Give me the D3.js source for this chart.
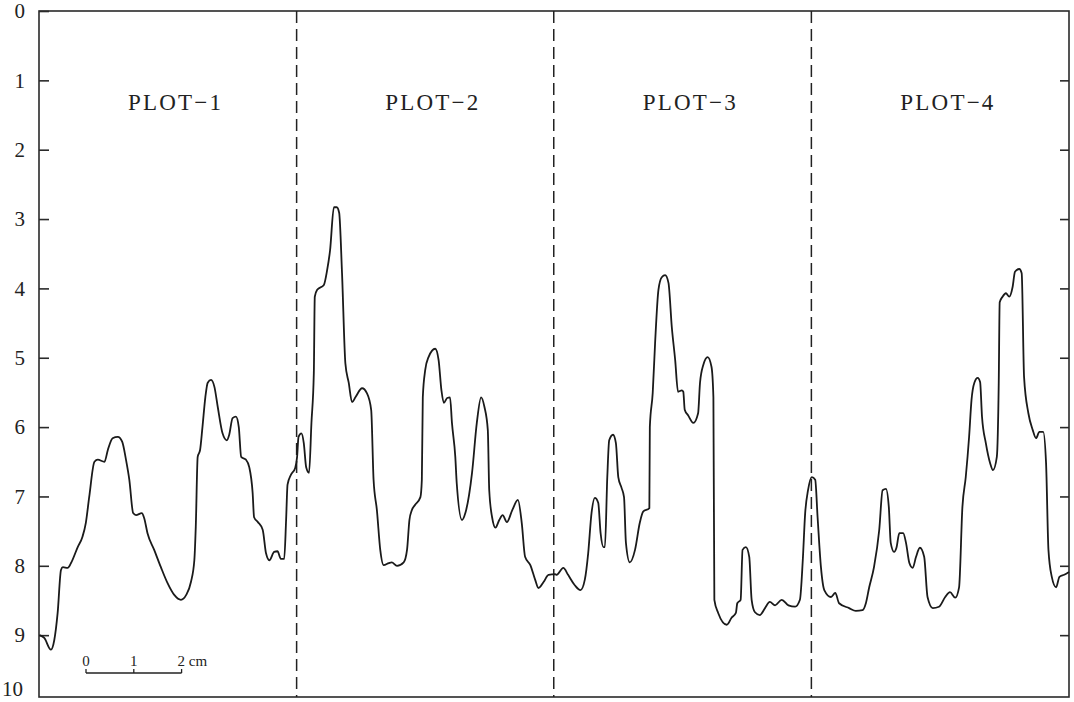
<!DOCTYPE html>
<html>
<head>
<meta charset="utf-8">
<style>
  body { margin: 0; background: #fff; }
  svg { display: block; }
  .frame { fill: none; stroke: #2a2a2a; stroke-width: 1.6px; }
  .axis path { display: none; }
  .axis line { stroke: #2a2a2a; stroke-width: 1.6px; }
  .axis text, .tick10 { font-family: "Liberation Serif", "DejaVu Serif", serif; font-size: 21px; fill: #222; }
  .plotlabel { font-family: "Liberation Serif", "DejaVu Serif", serif; font-size: 23px; fill: #222; letter-spacing: 2.2px; }
  .scale text { font-family: "Liberation Serif", "DejaVu Serif", serif; font-size: 15px; fill: #222; }
</style>
</head>
<body>
<svg width="1074" height="702"></svg>
<script src="https://d3js.org/d3.v7.min.js"></script>
<script>
// plot names and boundaries (distance along profile, cm)
const plotNames = ["PLOT\u22121", "PLOT\u22122", "PLOT\u22123", "PLOT\u22124"];
const plotBounds = [0, 5.39, 10.77, 16.16, 21.55];
const depthTicks = [0, 1, 2, 3, 4, 5, 6, 7, 8, 9];

// profile: distance (cm) and depth reading
const distanceCm = [
  0.01, 0.11, 0.25, 0.32, 0.39, 0.46, 0.50, 0.60, 0.67, 0.81, 0.91, 0.98, 1.05, 1.16, 1.23, 1.37, 1.44, 1.54, 1.65, 1.74,
  1.82, 1.89, 1.97, 2.03, 2.15, 2.20, 2.27, 2.41, 2.55, 2.69, 2.83, 2.97, 3.08, 3.18, 3.25, 3.28, 3.32, 3.37, 3.42, 3.48,
  3.53, 3.60, 3.67, 3.74, 3.84, 3.93, 3.98, 4.05, 4.12, 4.18, 4.23, 4.33, 4.40, 4.47, 4.50, 4.58, 4.68, 4.75, 4.82, 4.92,
  4.99, 5.06, 5.13, 5.17, 5.20, 5.27, 5.36, 5.40, 5.43, 5.49, 5.54, 5.59, 5.65, 5.70, 5.75, 5.77, 5.82, 5.96, 6.03, 6.09,
  6.17, 6.23, 6.28, 6.34, 6.41, 6.48, 6.55, 6.62, 6.76, 6.86, 6.95, 7.00, 7.07, 7.14, 7.21, 7.32, 7.38, 7.49, 7.63, 7.70,
  7.75, 7.80, 7.87, 7.98, 8.01, 8.03, 8.08, 8.15, 8.29, 8.36, 8.42, 8.47, 8.54, 8.60, 8.64, 8.71, 8.74, 8.85, 8.92, 9.06,
  9.16, 9.25, 9.32, 9.39, 9.42, 9.48, 9.55, 9.63, 9.70, 9.79, 9.90, 10.02, 10.10, 10.17, 10.28, 10.38, 10.45, 10.56, 10.66, 10.80,
  10.83, 10.97, 11.07, 11.21, 11.33, 11.42, 11.49, 11.56, 11.63, 11.70, 11.75, 11.81, 11.84, 11.89, 11.93, 12.01, 12.07, 12.12, 12.19, 12.24,
  12.28, 12.36, 12.47, 12.57, 12.64, 12.77, 12.78, 12.84, 12.89, 12.96, 13.03, 13.10, 13.17, 13.24, 13.31, 13.37, 13.45, 13.48, 13.51, 13.58,
  13.69, 13.79, 13.83, 13.90, 13.99, 14.07, 14.11, 14.13, 14.21, 14.39, 14.49, 14.58, 14.61, 14.68, 14.72, 14.79, 14.86, 14.91, 14.98, 15.08,
  15.19, 15.29, 15.40, 15.54, 15.68, 15.82, 15.92, 15.98, 16.03, 16.09, 16.17, 16.24, 16.29, 16.36, 16.43, 16.57, 16.66, 16.74, 16.95, 17.09,
  17.23, 17.30, 17.37, 17.47, 17.58, 17.65, 17.72, 17.78, 17.82, 17.89, 17.94, 18.00, 18.08, 18.14, 18.21, 18.28, 18.35, 18.43, 18.52, 18.59,
  18.70, 18.83, 18.96, 19.06, 19.17, 19.25, 19.32, 19.39, 19.46, 19.51, 19.57, 19.64, 19.69, 19.73, 19.81, 19.90, 19.96, 20.04, 20.08, 20.10,
  20.16, 20.23, 20.30, 20.37, 20.42, 20.51, 20.56, 20.61, 20.70, 20.79, 20.86, 20.93, 21.01, 21.07, 21.12, 21.19, 21.28, 21.35, 21.45, 21.55
];
const depthValues = [
  9.00, 9.04, 9.21, 9.07, 8.68, 8.06, 8.02, 8.03, 7.96, 7.73, 7.58, 7.38, 7.01, 6.50, 6.47, 6.50, 6.33, 6.16, 6.14, 6.21,
  6.47, 6.76, 7.24, 7.27, 7.24, 7.31, 7.53, 7.77, 8.02, 8.25, 8.42, 8.49, 8.42, 8.23, 7.92, 7.44, 6.43, 6.33, 6.00, 5.57,
  5.36, 5.32, 5.42, 5.71, 6.09, 6.19, 6.11, 5.87, 5.85, 6.00, 6.43, 6.47, 6.58, 6.95, 7.30, 7.37, 7.48, 7.82, 7.92, 7.80,
  7.79, 7.90, 7.90, 7.34, 6.83, 6.69, 6.59, 6.43, 6.14, 6.09, 6.23, 6.58, 6.66, 5.94, 5.22, 4.12, 4.02, 3.95, 3.73, 3.45,
  2.83, 2.83, 2.91, 3.78, 5.08, 5.36, 5.64, 5.57, 5.44, 5.51, 5.75, 6.76, 7.20, 7.77, 7.99, 7.96, 7.95, 8.00, 7.95, 7.77,
  7.34, 7.20, 7.12, 7.01, 6.76, 5.57, 5.18, 4.99, 4.87, 5.03, 5.47, 5.65, 5.58, 5.57, 5.94, 6.43, 6.81, 7.34, 7.24, 6.66,
  5.94, 5.57, 5.71, 6.04, 6.91, 7.30, 7.45, 7.34, 7.27, 7.37, 7.20, 7.05, 7.38, 7.87, 7.99, 8.20, 8.32, 8.23, 8.13, 8.12,
  8.13, 8.03, 8.13, 8.28, 8.35, 8.20, 7.82, 7.24, 7.02, 7.09, 7.53, 7.73, 7.73, 6.72, 6.19, 6.11, 6.23, 6.72, 6.88, 7.01,
  7.67, 7.95, 7.77, 7.38, 7.22, 7.17, 6.00, 5.51, 4.79, 4.02, 3.84, 3.81, 3.92, 4.56, 5.03, 5.49, 5.47, 5.49, 5.75, 5.83,
  5.94, 5.80, 5.36, 5.10, 4.99, 5.13, 5.57, 8.49, 8.68, 8.85, 8.75, 8.68, 8.54, 8.49, 7.77, 7.73, 7.87, 8.49, 8.67, 8.71,
  8.61, 8.52, 8.57, 8.49, 8.57, 8.59, 8.49, 7.92, 7.24, 6.91, 6.72, 6.76, 7.30, 8.02, 8.35, 8.45, 8.39, 8.54, 8.61, 8.65,
  8.64, 8.54, 8.31, 8.02, 7.48, 6.91, 6.89, 7.15, 7.67, 7.80, 7.74, 7.53, 7.53, 7.67, 7.96, 8.03, 7.87, 7.74, 7.87, 8.45,
  8.61, 8.59, 8.45, 8.38, 8.46, 8.31, 7.15, 6.72, 6.14, 5.61, 5.36, 5.29, 5.35, 5.85, 6.23, 6.52, 6.62, 6.43, 5.36, 4.20,
  4.12, 4.07, 4.12, 3.98, 3.76, 3.72, 3.78, 5.28, 5.80, 6.04, 6.16, 6.07, 6.07, 6.52, 7.77, 8.16, 8.31, 8.16, 8.13, 8.09
];

const svg = d3.select("svg");
const mLeft = 39, mRight = 1069, mTop = 11, mBottom = 697;

const x = d3.scaleLinear().domain([0, 21.55]).range([mLeft, mRight]);
// tick spacing in the scan is ~69.35px per unit
const y = d3.scaleLinear().domain([0, 10]).range([mTop, mTop + 693.5]);

// frame
svg.append("rect").attr("class", "frame")
  .attr("x", mLeft).attr("y", mTop)
  .attr("width", mRight - mLeft).attr("height", mBottom - mTop);

// left axis, ticks pointing in
svg.append("g").attr("class", "axis")
  .attr("transform", `translate(${mLeft},0)`)
  .call(d3.axisLeft(y).tickValues(depthTicks).tickSize(-10).tickPadding(14).tickFormat(d3.format("d")));
svg.append("text").attr("class", "tick10")
  .attr("x", mLeft - 16).attr("y", mBottom).attr("dy", "-0.05em")
  .attr("text-anchor", "end")
  .text("10");

// right axis, ticks only
svg.append("g").attr("class", "axis")
  .attr("transform", `translate(${mRight},0)`)
  .call(d3.axisRight(y).tickValues(depthTicks.slice(1)).tickSize(-9).tickFormat(""));

// dashed plot dividers
svg.append("g").selectAll("line")
  .data(plotBounds.slice(1, -1))
  .join("line")
  .attr("x1", d => x(d)).attr("x2", d => x(d))
  .attr("y1", mTop).attr("y2", mBottom)
  .attr("stroke", "#222").attr("stroke-width", 1.5)
  .attr("stroke-dasharray", "12,6");

// plot labels
svg.append("g").selectAll("text")
  .data(plotNames)
  .join("text")
  .attr("class", "plotlabel")
  .attr("x", (d, i) => x(plotBounds[i]) + 0.53 * (x(plotBounds[i + 1]) - x(plotBounds[i])))
  .attr("y", 110)
  .attr("text-anchor", "middle")
  .text(d => d);

// profile line
const pts = distanceCm.map((d, i) => [d, depthValues[i]]);
svg.append("path")
  .datum(pts)
  .attr("fill", "none")
  .attr("stroke", "#1a1a1a")
  .attr("stroke-width", 1.8)
  .attr("stroke-linejoin", "round")
  .attr("d", d3.line().x(d => x(d[0])).y(d => y(d[1])).curve(d3.curveMonotoneX));

// scale bar 0-2 cm
const sb = svg.append("g").attr("class", "scale").attr("transform", "translate(86,673)");
const cm = [0, 1, 2];
const unit = x(1) - x(0);
sb.append("line").attr("x1", 0).attr("x2", unit * 2).attr("y1", 0).attr("y2", 0)
  .attr("stroke", "#222").attr("stroke-width", 1.3);
sb.selectAll("line.t").data(cm).join("line").attr("class", "t")
  .attr("x1", d => d * unit).attr("x2", d => d * unit)
  .attr("y1", 0).attr("y2", -4)
  .attr("stroke", "#222").attr("stroke-width", 1.3);
sb.selectAll("text").data(cm).join("text")
  .attr("x", d => d * unit).attr("y", -7)
  .attr("text-anchor", d => d === 2 ? "start" : "middle")
  .attr("dx", d => d === 2 ? -4 : 0)
  .text(d => d === 2 ? "2 cm" : d);
</script>
</body>
</html>
